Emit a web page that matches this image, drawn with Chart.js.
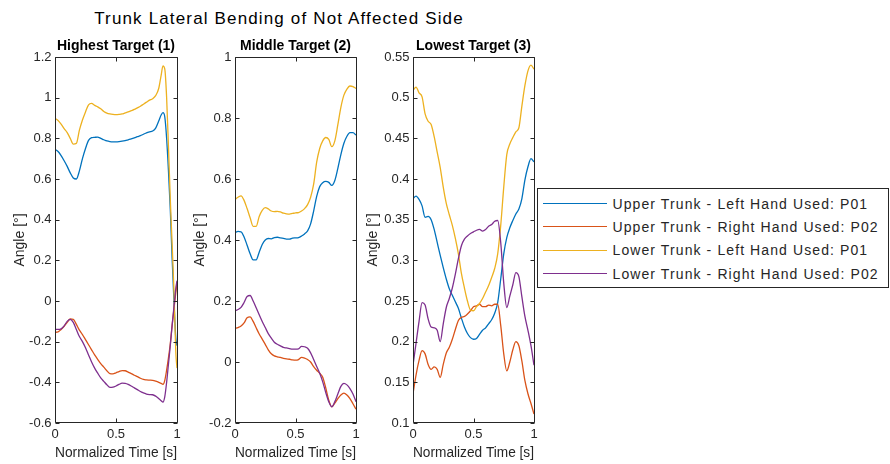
<!DOCTYPE html>
<html>
<head>
<meta charset="utf-8">
<script src="https://cdn.jsdelivr.net/npm/chart.js@4.4.1/dist/chart.umd.min.js"></script>
<style>
  body { margin: 0; background: #fff; font-family: Arial, "Liberation Sans", Helvetica, sans-serif; color: #262626; }
  #page { position: relative; width: 890px; height: 464px; overflow: hidden; }
  #page canvas { position: absolute; top: 0; }
  #suptitle { position: absolute; left: 0; top: 8px; width: 558px; text-align: center;
              font-size: 17px; line-height: 22px; letter-spacing: 1.15px; color: #000; white-space: nowrap; }
  #legend { position: absolute; left: 537px; top: 188px; width: 352px; height: 100px; box-sizing: border-box;
            border: 1.5px solid #262626; background: #fff; z-index: 2; }
  #legend .row { position: absolute; left: 0; height: 23px; display: flex; align-items: center; }
  #legend .swatch { width: 64px; height: 0; border-top: 1.5px solid; margin-left: 4.5px; margin-right: 6px; }
  #legend .label { font-size: 14px; letter-spacing: 1.1px; white-space: nowrap; color: #262626; }
</style>
</head>
<body>
<div id="page">
  <div id="suptitle">Trunk Lateral Bending of Not Affected Side</div>
  <canvas id="highest" width="190" height="464" style="left:0px"></canvas>
  <canvas id="middle" width="190" height="464" style="left:180px"></canvas>
  <canvas id="lowest" width="190" height="464" style="left:360px"></canvas>
  <div id="legend"></div>
</div>
<script>
// series names and colours (MATLAB default order)
const seriesLabels = [
  'Upper Trunk - Left Hand Used: P01',
  'Upper Trunk - Right Hand Used: P02',
  'Lower Trunk - Left Hand Used: P01',
  'Lower Trunk - Right Hand Used: P02'
];
const seriesColors = ['#0072BD', '#D95319', '#EDB120', '#7E2F8E'];

// normalized time samples
const timeHighest = [0, 0.025, 0.05, 0.075, 0.1, 0.125, 0.15, 0.175, 0.2, 0.225, 0.25, 0.275, 0.3, 0.325, 0.35,
  0.375, 0.4, 0.425, 0.45, 0.475, 0.5, 0.525, 0.55, 0.575, 0.6, 0.625, 0.65, 0.675, 0.7, 0.725, 0.75, 0.775,
  0.8, 0.825, 0.85, 0.87, 0.885, 0.9, 0.915, 0.93, 0.945, 0.96, 0.975, 0.99, 1];
const timeMiddle = [0, 0.025, 0.05, 0.075, 0.1, 0.125, 0.15, 0.175, 0.2, 0.225, 0.25, 0.275, 0.3, 0.325, 0.35,
  0.375, 0.4, 0.425, 0.45, 0.475, 0.5, 0.525, 0.55, 0.575, 0.6, 0.625, 0.65, 0.675, 0.7, 0.725, 0.75, 0.775,
  0.8, 0.825, 0.85, 0.875, 0.9, 0.925, 0.95, 0.975, 1];
const timeLowest = timeMiddle;

// Highest Target (1)
const highestUpperLeft = [0.746, 0.735, 0.715, 0.69, 0.662, 0.63, 0.605, 0.6, 0.64, 0.7, 0.75, 0.79, 0.803, 0.805,
  0.806, 0.8, 0.793, 0.787, 0.784, 0.783, 0.783, 0.784, 0.786, 0.789, 0.793, 0.797, 0.802, 0.808, 0.813, 0.82,
  0.827, 0.832, 0.836, 0.85, 0.885, 0.915, 0.926, 0.905, 0.8, 0.64, 0.45, 0.21, 0.0, -0.18, -0.22];
const highestUpperRight = [-0.154, -0.152, -0.14, -0.125, -0.105, -0.088, -0.09, -0.115, -0.143, -0.165, -0.19,
  -0.215, -0.24, -0.265, -0.287, -0.308, -0.325, -0.343, -0.357, -0.358, -0.353, -0.347, -0.342, -0.343, -0.35,
  -0.357, -0.365, -0.372, -0.38, -0.386, -0.388, -0.389, -0.39, -0.394, -0.4, -0.405, -0.41, -0.39, -0.34, -0.28,
  -0.21, -0.12, -0.04, 0.04, 0.09];
const highestLowerLeft = [0.898, 0.888, 0.87, 0.848, 0.828, 0.8, 0.772, 0.775, 0.84, 0.89, 0.93, 0.965, 0.972,
  0.962, 0.955, 0.945, 0.932, 0.924, 0.92, 0.918, 0.917, 0.918, 0.92, 0.925, 0.93, 0.936, 0.942, 0.95, 0.958,
  0.968, 0.978, 0.988, 0.995, 1.01, 1.045, 1.11, 1.156, 1.14, 1.0, 0.76, 0.5, 0.28, 0.05, -0.25, -0.33];
const highestLowerRight = [-0.139, -0.14, -0.137, -0.122, -0.1, -0.09, -0.105, -0.14, -0.175, -0.2, -0.23, -0.265,
  -0.3, -0.33, -0.355, -0.378, -0.395, -0.412, -0.425, -0.424, -0.418, -0.41, -0.404, -0.405, -0.41, -0.418,
  -0.427, -0.436, -0.445, -0.452, -0.458, -0.46, -0.461, -0.468, -0.48, -0.49, -0.497, -0.47, -0.4, -0.31, -0.22,
  -0.12, -0.03, 0.06, 0.1];

// Middle Target (2)
const middleUpperLeft = [0.424, 0.428, 0.427, 0.41, 0.383, 0.355, 0.335, 0.335, 0.36, 0.385, 0.4, 0.405, 0.404,
  0.408, 0.409, 0.407, 0.405, 0.403, 0.403, 0.406, 0.407, 0.408, 0.413, 0.42, 0.43, 0.453, 0.495, 0.543, 0.575,
  0.588, 0.592, 0.589, 0.579, 0.595, 0.635, 0.68, 0.717, 0.74, 0.752, 0.752, 0.744];
const middleUpperRight = [0.11, 0.113, 0.118, 0.128, 0.145, 0.148, 0.133, 0.112, 0.092, 0.075, 0.058, 0.04, 0.027,
  0.02, 0.017, 0.015, 0.012, 0.01, 0.009, 0.007, 0.006, 0.008, 0.015, 0.013, 0.008, 0.0, -0.015, -0.027, -0.037,
  -0.05, -0.085, -0.125, -0.147, -0.135, -0.12, -0.108, -0.102, -0.108, -0.12, -0.137, -0.155];
const middleLowerLeft = [0.533, 0.54, 0.545, 0.53, 0.503, 0.473, 0.445, 0.445, 0.477, 0.497, 0.506, 0.502, 0.495,
  0.493, 0.494, 0.492, 0.488, 0.486, 0.485, 0.487, 0.489, 0.49, 0.495, 0.503, 0.516, 0.54, 0.583, 0.655, 0.7,
  0.725, 0.736, 0.73, 0.706, 0.725, 0.778, 0.835, 0.875, 0.895, 0.905, 0.903, 0.897];
const middleLowerRight = [0.168, 0.172, 0.179, 0.195, 0.215, 0.218, 0.2, 0.178, 0.155, 0.133, 0.113, 0.093, 0.078,
  0.065, 0.058, 0.053, 0.048, 0.046, 0.044, 0.042, 0.042, 0.043, 0.051, 0.05, 0.045, 0.03, 0.008, -0.015, -0.037,
  -0.065, -0.1, -0.13, -0.147, -0.13, -0.105, -0.08, -0.07, -0.075, -0.087, -0.105, -0.13];

// Lowest Target (3)
const lowestUpperLeft = [0.376, 0.379, 0.375, 0.367, 0.353, 0.354, 0.35, 0.338, 0.322, 0.306, 0.291, 0.277, 0.265,
  0.257, 0.249, 0.241, 0.229, 0.218, 0.21, 0.205, 0.203, 0.204, 0.209, 0.214, 0.217, 0.222, 0.227, 0.235, 0.248,
  0.277, 0.308, 0.328, 0.34, 0.349, 0.357, 0.363, 0.376, 0.399, 0.415, 0.425, 0.421];
const lowestUpperRight = [0.136, 0.159, 0.177, 0.189, 0.185, 0.172, 0.166, 0.169, 0.166, 0.156, 0.172, 0.186,
  0.193, 0.203, 0.215, 0.226, 0.23, 0.231, 0.234, 0.238, 0.243, 0.244, 0.246, 0.243, 0.243, 0.245, 0.244, 0.246,
  0.246, 0.22, 0.185, 0.164, 0.175, 0.19, 0.2, 0.195, 0.176, 0.152, 0.136, 0.124, 0.111];
const lowestLowerLeft = [0.509, 0.513, 0.506, 0.501, 0.48, 0.471, 0.467, 0.452, 0.433, 0.414, 0.39, 0.37, 0.356,
  0.343, 0.327, 0.308, 0.284, 0.266, 0.25, 0.239, 0.238, 0.243, 0.247, 0.253, 0.261, 0.269, 0.279, 0.29, 0.308,
  0.343, 0.39, 0.43, 0.443, 0.451, 0.458, 0.463, 0.49, 0.515, 0.533, 0.54, 0.535];
const lowestLowerRight = [0.171, 0.198, 0.225, 0.248, 0.245, 0.228, 0.218, 0.217, 0.214, 0.2, 0.222, 0.242, 0.253,
  0.266, 0.283, 0.302, 0.318, 0.326, 0.33, 0.333, 0.335, 0.337, 0.338, 0.336, 0.338, 0.342, 0.344, 0.348, 0.349,
  0.322, 0.272, 0.242, 0.256, 0.27, 0.285, 0.28, 0.255, 0.231, 0.214, 0.195, 0.171];

const xTicks = [0, 0.5, 1];

Chart.defaults.font.family = 'Arial, "Liberation Sans", Helvetica, sans-serif';
Chart.defaults.color = '#262626';

const TICK = 4;
const fmt = v => String(parseFloat(Number(v).toFixed(3)));

// box around the axes with inward ticks on all four sides
const boxAxes = {
  id: 'boxAxes',
  afterDatasetsDraw(chart) {
    const {ctx, chartArea: a, scales: {x, y}} = chart;
    const L = a.left + 0.5, R = a.right + 0.5, T = a.top + 0.5, B = a.bottom - 0.5;
    ctx.save();
    ctx.strokeStyle = '#262626';
    ctx.lineWidth = 1;
    ctx.beginPath();
    ctx.rect(L, T, R - L, B - T);
    y.ticks.forEach(t => {
      const py = Math.round(y.getPixelForValue(t.value)) + 0.5;
      ctx.moveTo(L, py); ctx.lineTo(L + TICK, py);
      ctx.moveTo(R, py); ctx.lineTo(R - TICK, py);
    });
    x.ticks.forEach(t => {
      const px = Math.round(x.getPixelForValue(t.value)) + 0.5;
      ctx.moveTo(px, B); ctx.lineTo(px, B - TICK);
      ctx.moveTo(px, T); ctx.lineTo(px, T + TICK);
    });
    ctx.stroke();
    ctx.restore();
  }
};

function panel(id, title, time, series, yMin, yMax, yStep, yWidth, yTitlePad, rightPad) {
  return new Chart(document.getElementById(id), {
    type: 'line',
    data: {
      datasets: series.map((vals, i) => ({
        label: seriesLabels[i],
        data: time.map((t, k) => ({x: t, y: vals[k]})),
        borderColor: seriesColors[i],
        borderWidth: 1.3,
        pointRadius: 0,
        fill: false,
        cubicInterpolationMode: 'monotone',
        order: series.length - i
      }))
    },
    options: {
      responsive: false,
      animation: false,
      events: [],
      layout: {padding: {left: 0, right: rightPad, top: 0, bottom: 0}},
      plugins: {
        legend: {display: false},
        tooltip: {enabled: false},
        title: {
          display: true, text: title, fullSize: false, color: '#000',
          font: {size: 14, weight: 'bold'}, padding: {top: 37.6, bottom: 2.6}
        }
      },
      scales: {
        x: {
          type: 'linear', min: xTicks[0], max: xTicks[xTicks.length - 1],
          grid: {display: false, drawTicks: false}, border: {display: false},
          afterBuildTicks: s => { s.ticks = xTicks.map(v => ({value: v})); },
          ticks: {padding: 4, maxRotation: 0, autoSkip: false, font: {size: 13}, callback: fmt},
          title: {display: true, text: 'Normalized Time [s]', font: {size: 14}, padding: {top: 0, bottom: 2.3}},
          afterFit: s => { s.height = 41; }
        },
        y: {
          min: yMin, max: yMax,
          grid: {display: false, drawTicks: false}, border: {display: false},
          ticks: {stepSize: yStep, padding: 3.5, autoSkip: false, font: {size: 13}, callback: fmt},
          title: {display: true, text: 'Angle [°]', font: {size: 14}, padding: {top: yTitlePad, bottom: 0}},
          afterFit: s => { s.width = yWidth; }
        }
      }
    },
    plugins: [boxAxes]
  });
}

panel('highest', 'Highest Target (1)', timeHighest,
  [highestUpperLeft, highestUpperRight, highestLowerLeft, highestLowerRight], -0.6, 1.2, 0.2, 55, 11.6, 13);
panel('middle', 'Middle Target (2)', timeMiddle,
  [middleUpperLeft, middleUpperRight, middleLowerLeft, middleLowerRight], -0.2, 1, 0.2, 55, 11.6, 14);
panel('lowest', 'Lowest Target (3)', timeLowest,
  [lowestUpperLeft, lowestUpperRight, lowestLowerLeft, lowestLowerRight], 0.1, 0.55, 0.05, 53, 4.6, 16);

// legend box
const legend = document.getElementById('legend');
seriesLabels.forEach((text, i) => {
  const row = document.createElement('div');
  row.className = 'row';
  row.style.top = (3 + i * 23.4) + 'px';
  const swatch = document.createElement('span');
  swatch.className = 'swatch';
  swatch.style.borderColor = seriesColors[i];
  const label = document.createElement('span');
  label.className = 'label';
  label.textContent = text;
  row.appendChild(swatch);
  row.appendChild(label);
  legend.appendChild(row);
});
</script>
</body>
</html>
